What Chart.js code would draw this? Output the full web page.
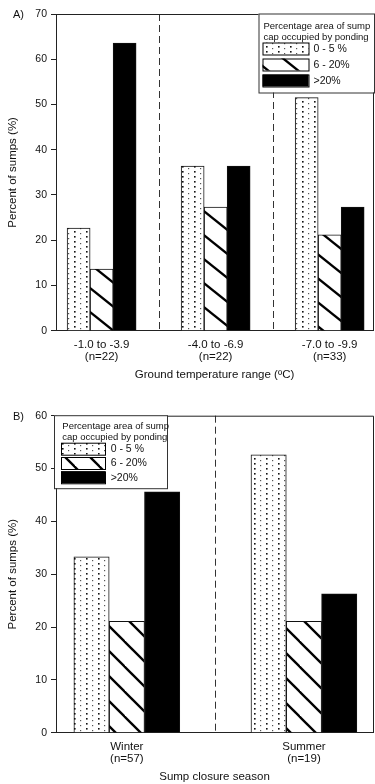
<!DOCTYPE html>
<html>
<head>
<meta charset="utf-8">
<script src="https://cdn.jsdelivr.net/npm/chart.js@4"></script>
<style>
  body { margin: 0; background: #fff; }
  canvas { display: block; }
</style>
</head>
<body>
<canvas id="chartA" width="375" height="392"></canvas>
<canvas id="chartB" width="375" height="392"></canvas>
<script>
// legend text, shared by both panels
const seriesLabels = ["0 - 5 %", "6 - 20%", ">20%"];
const legendTitle = ["Percentage area of sump", "cap occupied by ponding"];

// A) ground temperature
const tempRanges = [["-1.0 to -3.9", "(n=22)"], ["-4.0 to -6.9", "(n=22)"], ["-7.0 to -9.9", "(n=33)"]];
const tempLow = [22.7, 36.4, 51.5];
const tempMid = [13.6, 27.3, 21.2];
const tempHigh = [63.6, 36.4, 27.3];
const tempTicks = [0, 10, 20, 30, 40, 50, 60, 70];

// B) closure season
const seasons = [["Winter", "(n=57)"], ["Summer", "(n=19)"]];
const seasonLow = [33.3, 52.6];
const seasonMid = [21.1, 21.1];
const seasonHigh = [45.6, 26.3];
const seasonTicks = [0, 10, 20, 30, 40, 50, 60];

Chart.defaults.font.family = "'Liberation Sans', Arial, sans-serif";
Chart.defaults.color = "#111";

/* fill patterns */
function dotPattern() {
  const c = document.createElement("canvas");
  c.width = 12; c.height = 5;
  const g = c.getContext("2d");
  g.fillStyle = "#fff"; g.fillRect(0, 0, 12, 5);
  g.fillStyle = "#111"; g.fillRect(2, 1, 1.6, 1.6);
  g.fillStyle = "#555"; g.fillRect(8, 3, 1.2, 1.2);
  return g.createPattern(c, "repeat");
}
function hatchPattern(w, h) {
  const c = document.createElement("canvas");
  c.width = w; c.height = h;
  const g = c.getContext("2d");
  g.fillStyle = "#fff"; g.fillRect(0, 0, w, h);
  g.strokeStyle = "#000"; g.lineWidth = 2.3;
  for (const k of [-1, 0, 1]) {
    g.beginPath();
    g.moveTo(k * w - w * 0.1, -h * 0.1);
    g.lineTo(k * w + w * 1.1, h * 1.1);
    g.stroke();
  }
  return g.createPattern(c, "repeat");
}

/* dashed separators, plot frame, boxed legend, panel letter */
const decor = {
  id: "decor",
  afterDatasetsDraw(chart, args, o) {
    const { ctx, chartArea: a, scales: { x } } = chart;
    ctx.save();
    ctx.strokeStyle = "#333";
    ctx.lineWidth = 1;
    ctx.setLineDash([7, 4]);
    const n = chart.data.datasets[0].data.length;
    for (let i = 1; i < n; i++) {
      const px = Math.round(x.getPixelForValue(i + 0.5)) + 0.5;
      ctx.beginPath(); ctx.moveTo(px, a.top); ctx.lineTo(px, a.bottom); ctx.stroke();
    }
    ctx.setLineDash([]);
    ctx.strokeStyle = "#222";
    ctx.beginPath();
    ctx.moveTo(a.left, a.top + 0.5);
    ctx.lineTo(a.right + 0.5, a.top + 0.5);
    ctx.lineTo(a.right + 0.5, a.bottom);
    ctx.stroke();

    // legend box
    const L = o.legend;
    const bx = L.side === "right" ? a.right + 1 - L.w : a.left - 2;
    const by = a.top - 0.5;
    ctx.fillStyle = "#fff";
    ctx.fillRect(bx, by, L.w, L.h);
    ctx.strokeStyle = "#333";
    ctx.strokeRect(bx + 0.5, by + 0.5, L.w, L.h);
    ctx.fillStyle = "#111";
    ctx.textBaseline = "middle";
    ctx.textAlign = "left";
    ctx.font = "9.5px 'Liberation Sans', Arial, sans-serif";
    legendTitle.forEach((t, i) => ctx.fillText(t, bx + L.textX, by + L.titleY[i]));
    ctx.font = "10.5px 'Liberation Sans', Arial, sans-serif";
    chart.data.datasets.forEach((ds, i) => {
      const sy = by + L.rowTop + i * L.pitch;
      ctx.fillStyle = ds.backgroundColor;
      ctx.fillRect(bx + L.swX, sy, L.swW, L.swH);
      ctx.strokeStyle = "#000";
      ctx.strokeRect(bx + L.swX + 0.5, sy + 0.5, L.swW, L.swH);
      ctx.fillStyle = "#111";
      ctx.fillText(ds.label, bx + L.labelX, sy + L.swH / 2 + 0.5);
    });

    ctx.font = "11px 'Liberation Sans', Arial, sans-serif";
    ctx.fillText(o.letter, 13, a.top + 1);
    ctx.restore();
  }
};

function makeChart(id, cats, low, mid, high, yTicks, opt) {
  const toPts = vals => vals.map((v, i) => ({ x: i + 1, y: v }));
  const bar = { borderColor: "#111", borderWidth: 1, barThickness: opt.barW };
  return new Chart(document.getElementById(id), {
    type: "bar",
    data: {
      datasets: [
        { ...bar, label: seriesLabels[0], data: toPts(low), backgroundColor: dotPattern() },
        { ...bar, label: seriesLabels[1], data: toPts(mid), backgroundColor: hatchPattern(opt.hatchW, opt.hatchH) },
        { ...bar, label: seriesLabels[2], data: toPts(high), backgroundColor: "#000" }
      ]
    },
    options: {
      responsive: false,
      animation: false,
      layout: { padding: { top: opt.top, right: 2, left: 0, bottom: 0 } },
      plugins: {
        legend: { display: false },
        tooltip: { enabled: false },
        decor: { legend: opt.legend, letter: opt.letter }
      },
      scales: {
        x: {
          type: "linear",
          offset: false,
          min: 0.6,
          max: opt.xMax,
          afterFit: s => { s.height = opt.xH; },
          afterBuildTicks: s => { s.ticks = cats.map((c, i) => ({ value: i + 1 })); },
          grid: { display: false, drawTicks: false, offset: false },
          border: { display: true, color: "#222", width: 1 },
          ticks: {
            autoSkip: false, maxRotation: 0, padding: 7.5,
            font: { size: 11.5, lineHeight: 1.08 },
            callback: v => cats[Math.round(v) - 1]
          },
          title: {
            display: true, text: opt.xTitle,
            font: { size: 11.5 },
            padding: { top: 0, bottom: opt.xTitlePad }
          }
        },
        y: {
          min: yTicks[0],
          max: yTicks[yTicks.length - 1],
          afterFit: s => { s.width = 56; },
          afterBuildTicks: s => { s.ticks = yTicks.map(v => ({ value: v })); },
          grid: { display: true, drawOnChartArea: false, drawTicks: true, tickLength: 5, color: "#222" },
          border: { display: true, color: "#222", width: 1 },
          ticks: { padding: 4, font: { size: 10.5 } },
          title: {
            display: true, text: "Percent of sumps (%)",
            font: { size: 11.5 },
            padding: { top: 6, bottom: 0 }
          }
        }
      }
    },
    plugins: [decor]
  });
}

makeChart("chartA", tempRanges, tempLow, tempMid, tempHigh, tempTicks, {
  top: 14, xH: 61.3, xMax: 3.38, barW: 23, hatchW: 30, hatchH: 24,
  xTitle: "Ground temperature range (\u00BAC)", xTitlePad: 10.1, letter: "A)",
  legend: { side: "right", w: 115.5, h: 79, textX: 5, titleY: [12.7, 23.4],
            rowTop: 29, pitch: 16, swX: 4, swW: 46, swH: 12, labelX: 55 }
});

makeChart("chartB", seasons, seasonLow, seasonMid, seasonHigh, seasonTicks, {
  top: 23.7, xH: 51.3, xMax: 2.39, barW: 35.3, hatchW: 25, hatchH: 25,
  xTitle: "Sump closure season", xTitlePad: 0.4, letter: "B)",
  legend: { side: "left", w: 113, h: 73, textX: 8.3, titleY: [11, 21.7],
            rowTop: 27.5, pitch: 14.3, swX: 7, swW: 44, swH: 12, labelX: 56.7 }
});
</script>
</body>
</html>
